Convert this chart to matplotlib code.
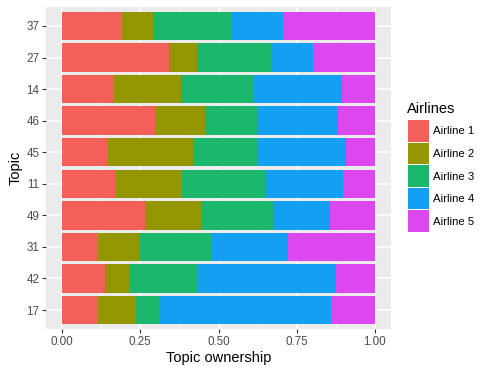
import matplotlib
matplotlib.use("Agg")
import matplotlib.pyplot as plt
from matplotlib.patches import Rectangle
import numpy as np

plt.rcParams["font.family"] = ["Liberation Sans", "DejaVu Sans"]

topics = ["17", "42", "31", "49", "11", "45", "46", "14", "27", "37"]
airlines = ["Airline 1", "Airline 2", "Airline 3", "Airline 4", "Airline 5"]
# shares per topic (same order as topics), one list per airline
airline1 = [0.114, 0.136, 0.114, 0.265, 0.171, 0.146, 0.297, 0.165, 0.342, 0.191]
airline2 = [0.121, 0.080, 0.132, 0.179, 0.211, 0.273, 0.160, 0.215, 0.089, 0.102]
airline3 = [0.077, 0.215, 0.232, 0.229, 0.266, 0.204, 0.166, 0.232, 0.239, 0.249]
airline4 = [0.547, 0.443, 0.243, 0.182, 0.249, 0.283, 0.258, 0.283, 0.132, 0.164]
airline5 = [0.141, 0.126, 0.279, 0.145, 0.102, 0.094, 0.119, 0.105, 0.198, 0.294]
colors = ["#F45F5A", "#949600", "#1AB76C", "#14A0F2", "#DD47F0"]

series = [airline1, airline2, airline3, airline4, airline5]

fig = plt.figure(figsize=(5.0, 3.72), dpi=100)
W, H = 500, 372
px = lambda l, t, r, b: [l / W, 1 - b / H, (r - l) / W, (b - t) / H]
ax = fig.add_axes(px(46.4, 7, 390.6, 329))
ax.set_facecolor("#EBEBEB")

y = np.arange(1, len(topics) + 1)
left = np.zeros(len(topics))
for vals, c in zip(series, colors):
    ax.barh(y, vals, left=left, height=0.9, color=c, linewidth=0, zorder=3)
    left = left + np.array(vals)

ax.set_xlim(-0.05, 1.05)
ax.set_ylim(0.4, len(topics) + 0.6)
ax.set_xticks([0, 0.25, 0.5, 0.75, 1.0])
ax.set_xticklabels(["0.00", "0.25", "0.50", "0.75", "1.00"])
ax.set_xticks([0.125, 0.375, 0.625, 0.875], minor=True)
ax.set_yticks(y)
ax.set_yticklabels(topics)
ax.grid(which="major", color="white", linewidth=1.1, zorder=1)
ax.grid(which="minor", axis="x", color="white", linewidth=0.55, zorder=1)
ax.set_axisbelow(True)
for s in ax.spines.values():
    s.set_visible(False)
ax.tick_params(which="major", length=3, width=0.8, color="#333333",
               labelcolor="#4D4D4D", labelsize=8.4, pad=2)
ax.tick_params(which="minor", length=0)
ax.set_xlabel("Topic ownership", fontsize=10.5, color="black", labelpad=2)
ax.set_ylabel("Topic", fontsize=10.5, color="black", labelpad=3)

# legend
fig.text(407 / W, 1 - 109 / H, "Airlines", fontsize=10.5, ha="left", va="center")
key_top = 120
key_h = 22.6
for i, (name, c) in enumerate(zip(airlines, colors)):
    t = key_top + i * key_h
    fig.add_artist(Rectangle((408 / W, 1 - (t + key_h - 1) / H), 21 / W, (key_h - 1) / H,
                             transform=fig.transFigure, facecolor=c, edgecolor="none"))
    fig.text(433 / W, 1 - (t + key_h / 2) / H, name, fontsize=8.2, ha="left", va="center")

fig.savefig("out.png", dpi=100)
